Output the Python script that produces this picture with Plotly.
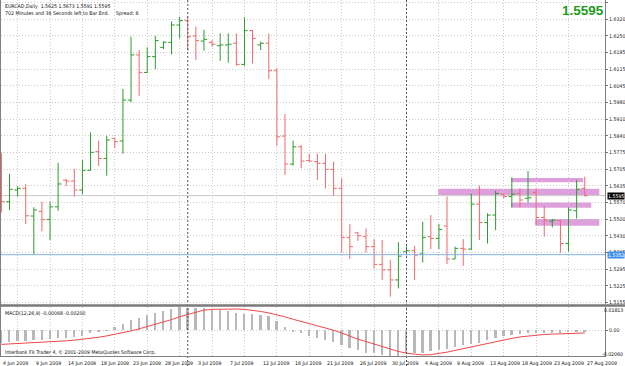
import subprocess
import numpy as np
import plotly.graph_objects as go

# ---------------- data ----------------
symbol_title = "EURCAD,Daily  1.5625 1.5673 1.5591 1.5595"
timer_text = "702 Minutes and 36 Seconds left to Bar End."
spread_text = "Spread: 8"
macd_title = "MACD(12,26,9) -0.00068 -0.00200"
copyright_text = "Interbank FX Trader 4, \u00a9 2001-2009 MetaQuotes Software Corp."
last_price = 1.5595
ref_line_price = 1.5352
macd_top_label = 0.01813
macd_bottom_label = -0.02060

date_labels = ["4 Jun 2009", "9 Jun 2009", "14 Jun 2009", "18 Jun 2009", "23 Jun 2009",
               "28 Jun 2009", "3 Jul 2009", "7 Jul 2009", "12 Jul 2009", "16 Jul 2009",
               "21 Jul 2009", "26 Jul 2009", "30 Jul 2009", "4 Aug 2009", "9 Aug 2009",
               "13 Aug 2009", "18 Aug 2009", "23 Aug 2009", "27 Aug 2009"]

price_labels = ["1.6390", "1.6320", "1.6250", "1.6185", "1.6115", "1.6045", "1.5980",
                "1.5910", "1.5840", "1.5775", "1.5705", "1.5635", "1.5570", "1.5500",
                "1.5430", "1.5365", "1.5295", "1.5225", "1.5155"]

open_ = [1.5741, 1.5570, 1.5618, 1.5625, 1.5511, 1.5530, 1.5497, 1.5549, 1.5659, 1.5655,
         1.5618, 1.5699, 1.5776, 1.5748, 1.5831, 1.5820, 1.5988, 1.6174, 1.6102, 1.6167,
         1.6205, 1.6226, 1.6297, 1.6315, 1.6252, 1.6231, 1.6226, 1.6212, 1.6215, 1.6222,
         1.6135, 1.6274, 1.6215, 1.6222, 1.6109, 1.5840, 1.5725, 1.5796, 1.5739, 1.5735,
         1.5728, 1.5703, 1.5625, 1.5423, 1.5442, 1.5426, 1.5385, 1.5312, 1.5289, 1.5248,
         1.5364, 1.5368, 1.5355, 1.5426, 1.5419, 1.5470, 1.5334, 1.5378, 1.5375, 1.5560,
         1.5484, 1.5515, 1.5601, 1.5591, 1.5604, 1.5584, 1.5608, 1.5505, 1.5490, 1.5492,
         1.5398, 1.5533, 1.5625]
high = [1.5769, 1.5684, 1.5634, 1.5643, 1.5547, 1.5570, 1.5570, 1.5730, 1.5663, 1.5704,
        1.5741, 1.5855, 1.5821, 1.5842, 1.5833, 1.6034, 1.6249, 1.6194, 1.6205, 1.6252,
        1.6231, 1.6312, 1.6331, 1.6331, 1.6290, 1.6277, 1.6235, 1.6263, 1.6263, 1.6263,
        1.6329, 1.6277, 1.6229, 1.6263, 1.6119, 1.5931, 1.5821, 1.5803, 1.5766, 1.5769,
        1.5766, 1.5735, 1.5666, 1.5477, 1.5444, 1.5460, 1.5416, 1.5412, 1.5330, 1.5403,
        1.5385, 1.5389, 1.5488, 1.5515, 1.5478, 1.5591, 1.5385, 1.5416, 1.5604, 1.5636,
        1.5522, 1.5615, 1.5604, 1.5670, 1.5625, 1.5696, 1.5625, 1.5552, 1.5499, 1.5494,
        1.5547, 1.5659, 1.5673]
low = [1.5526, 1.5536, 1.5591, 1.5478, 1.5355, 1.5448, 1.5412, 1.5533, 1.5634, 1.5591,
       1.5600, 1.5698, 1.5717, 1.5677, 1.5792, 1.5767, 1.5979, 1.6006, 1.6101, 1.6116,
       1.6198, 1.6176, 1.6242, 1.6191, 1.6153, 1.6191, 1.6208, 1.6150, 1.6142, 1.6130,
       1.6130, 1.6139, 1.6194, 1.6075, 1.5800, 1.5680, 1.5718, 1.5707, 1.5735, 1.5659,
       1.5625, 1.5595, 1.5361, 1.5334, 1.5409, 1.5361, 1.5296, 1.5248, 1.5179, 1.5213,
       1.5357, 1.5248, 1.5320, 1.5375, 1.5375, 1.5313, 1.5334, 1.5306, 1.5371, 1.5412,
       1.5398, 1.5453, 1.5584, 1.5547, 1.5547, 1.5567, 1.5474, 1.5426, 1.5464, 1.5360,
       1.5364, 1.5501, 1.5591]
close = [1.5570, 1.5621, 1.5625, 1.5512, 1.5536, 1.5496, 1.5549, 1.5643, 1.5655, 1.5618,
         1.5699, 1.5773, 1.5748, 1.5824, 1.5817, 1.5988, 1.6174, 1.6102, 1.6167, 1.6233,
         1.6226, 1.6297, 1.6315, 1.6249, 1.6233, 1.6238, 1.6218, 1.6215, 1.6218, 1.6135,
         1.6274, 1.6242, 1.6222, 1.6109, 1.5837, 1.5725, 1.5796, 1.5737, 1.5737, 1.5728,
         1.5703, 1.5625, 1.5423, 1.5385, 1.5430, 1.5385, 1.5312, 1.5289, 1.5248, 1.5346,
         1.5368, 1.5350, 1.5423, 1.5419, 1.5456, 1.5334, 1.5378, 1.5375, 1.5560, 1.5484,
         1.5515, 1.5604, 1.5591, 1.5601, 1.5577, 1.5586, 1.5505, 1.5494, 1.5494, 1.5398,
         1.5536, 1.5621, 1.5595]

macd_main = [-0.00954, -0.00871, -0.00816, -0.00816, -0.00761, -0.00733, -0.00678, -0.00595, -0.00595, -0.00539,
             -0.00456, -0.00180, -0.00100, -0.00040, 0.00235, 0.00484, 0.00844, 0.00982, 0.01203, 0.01397,
             0.01535, 0.01673, 0.01813, 0.01790, 0.01756, 0.01729, 0.01618, 0.01590, 0.01480, 0.01397,
             0.01314, 0.01300, 0.01203, 0.01120, 0.00705, 0.00290, -0.00124, -0.00180, -0.00401, -0.00595,
             -0.00733, -0.00871, -0.01176, -0.01369, -0.01563, -0.01729, -0.01784, -0.01922, -0.02060, -0.02005,
             -0.01784, -0.01770, -0.01729, -0.01590, -0.01507, -0.01424, -0.01286, -0.01176, -0.01037, -0.00954,
             -0.00733, -0.00622, -0.00456, -0.00346, -0.00318, -0.00235, -0.00180, -0.00235, -0.00180, -0.00180,
             -0.00124, -0.00124, -0.00068]
macd_signal = [-0.01093, -0.01065, -0.01037, -0.01010, -0.00954, -0.00927, -0.00899, -0.00871, -0.00816, -0.00761,
               -0.00705, -0.00650, -0.00539, -0.00429, -0.00318, -0.00180, -0.00041, 0.00124, 0.00290, 0.00456,
               0.00650, 0.00844, 0.01065, 0.01259, 0.01452, 0.01590, 0.01646, 0.01673, 0.01673, 0.01673,
               0.01646, 0.01590, 0.01480, 0.01369, 0.01231, 0.01065, 0.00871, 0.00705, 0.00539, 0.00401,
               0.00235, 0.00014, -0.00207, -0.00456, -0.00678, -0.00871, -0.01065, -0.01259, -0.01480, -0.01646,
               -0.01784, -0.01867, -0.01922, -0.01895, -0.01812, -0.01701, -0.01563, -0.01424, -0.01286, -0.01148,
               -0.01010, -0.00871, -0.00733, -0.00622, -0.00512, -0.00429, -0.00373, -0.00318, -0.00290, -0.00280,
               -0.00240, -0.00220, -0.00200]

month_start_bars = [23, 50]          # period separators (1 Jul, 2 Aug)
# pink zones: (bar from, bar to, price low, price high)
zones = [(53.9, 73.8, 1.5598, 1.5623),
         (62.9, 71.8, 1.5650, 1.5667),
         (62.9, 72.8, 1.5545, 1.5567),
         (65.9, 73.8, 1.5471, 1.5499)]

# ---------------- fonts ----------------
try:
    fc = subprocess.run(["fc-list"], capture_output=True, text=True).stdout
except Exception:
    fc = ""
if "Liberation Sans Narrow" in fc:
    SMALL_FAMILY, SMALL_SIZE = "Liberation Sans Narrow", 6.0
elif "DejaVu Sans Condensed" in fc or "DejaVuSansCondensed" in fc:
    SMALL_FAMILY, SMALL_SIZE = "DejaVu Sans Condensed", 5.2
else:
    SMALL_FAMILY, SMALL_SIZE = "Liberation Sans", 4.9
FONT = "Liberation Sans, Arial, sans-serif"

# ---------------- figure ----------------
W, H = 625, 366
ML, MR, MT, MB = 1, 20, 0, 9
PH = H - MT - MB
PW = W - ML - MR


def py(ypx):
    return 1 - (ypx - MT) / PH


def px(xpx):
    return (xpx - ML) / PW


n = len(open_)
x = list(range(n))
label_bars = list(range(0, n, 4))
grid_bars = [b + 2 for b in label_bars[:-1]]

GRID = "#c9c9c9"
small = dict(family=SMALL_FAMILY, size=SMALL_SIZE, color="#111111")

fig = go.Figure()
fig.add_trace(go.Ohlc(
    x=x, open=open_, high=high, low=low, close=close,
    increasing=dict(line=dict(color="#2e9a2e", width=1)),
    decreasing=dict(line=dict(color="#ee6a6a", width=1)),
    tickwidth=0.4, xaxis="x", yaxis="y", hoverinfo="skip"))
fig.add_trace(go.Bar(
    x=x, y=macd_main, width=0.22,
    marker=dict(color="#b8b8b8", line=dict(width=0)),
    xaxis="x2", yaxis="y2", hoverinfo="skip"))
fig.add_trace(go.Scatter(
    x=x, y=macd_signal, mode="lines",
    line=dict(color="#f04848", width=1),
    xaxis="x2", yaxis="y2", hoverinfo="skip"))

y_top, y_bot = 1.6400, 1.5149
tickvals = list(np.linspace(float(price_labels[0]), float(price_labels[-1]), len(price_labels)))

main_dom = [py(304), 1]
macd_dom = [0, py(307)]

common_x = dict(range=[-0.05, 74.5], tickvals=grid_bars, showticklabels=False,
                showgrid=True, gridcolor=GRID, griddash="1px,2px", gridwidth=1,
                zeroline=False, ticks="", showline=False, automargin=False)

fig.update_layout(
    width=W, height=H, template="none",
    margin=dict(l=ML, r=MR, t=MT, b=MB, pad=0),
    paper_bgcolor="white", plot_bgcolor="white", showlegend=False,
    font=dict(family=FONT, size=6, color="black"),
    bargap=0,
    xaxis=dict(domain=[0, 1], anchor="y", rangeslider=dict(visible=False), **common_x),
    xaxis2=dict(domain=[0, 1], anchor="y2", matches="x", **common_x),
    yaxis=dict(domain=main_dom, range=[y_bot, y_top], side="right",
               tickvals=tickvals, ticktext=price_labels,
               showgrid=True, gridcolor=GRID, griddash="1px,2px", gridwidth=1,
               ticks="outside", ticklen=2, tickcolor="#777777",
               tickfont=dict(size=SMALL_SIZE, family=SMALL_FAMILY, color="#222222"),
               showline=True, linecolor="#808080", linewidth=1,
               zeroline=False, automargin=False),
    yaxis2=dict(domain=macd_dom, range=[-0.0208, 0.0183], side="right",
                tickvals=[0], ticktext=["0.00"],
                showgrid=True, gridcolor=GRID, griddash="1px,2px", gridwidth=1,
                ticks="outside", ticklen=2, tickcolor="#777777",
                tickfont=dict(size=SMALL_SIZE, family=SMALL_FAMILY, color="#222222"),
                showline=True, linecolor="#808080", linewidth=1,
                zeroline=False, automargin=False),
)

shapes = []
for b0, b1, p0, p1 in zones:
    shapes.append(dict(type="rect", xref="x", yref="y", x0=b0, x1=b1, y0=p0, y1=p1,
                       fillcolor="#dda0dd", line=dict(width=0), layer="below"))
shapes.append(dict(type="line", xref="paper", yref="y", x0=0, x1=1, y0=last_price, y1=last_price,
                   line=dict(color="#c8c8c8", width=1), layer="below"))
shapes.append(dict(type="line", xref="paper", yref="y", x0=0, x1=1, y0=ref_line_price, y1=ref_line_price,
                   line=dict(color="#7fb2e5", width=1), layer="above"))
for b in month_start_bars:
    shapes.append(dict(type="line", xref="x", yref="paper", x0=b, x1=b, y0=py(366), y1=1,
                       line=dict(color="#555555", width=1, dash="2px,2px"), layer="above"))
shapes.append(dict(type="line", xref="paper", yref="paper", x0=px(0.5), x1=px(0.5), y0=0, y1=1,
                   line=dict(color="#808080", width=1)))
shapes.append(dict(type="line", xref="paper", yref="paper", x0=px(0), x1=px(625), y0=py(305.5), y1=py(305.5),
                   line=dict(color="#7a7a7a", width=2.5)))
shapes.append(dict(type="line", xref="paper", yref="paper", x0=px(0), x1=px(606), y0=py(356.5), y1=py(356.5),
                   line=dict(color="#808080", width=1)))
fig.update_layout(shapes=shapes)

ann = []
ann.append(dict(text=symbol_title, xref="paper", yref="paper", x=px(3), y=py(0.5),
                xanchor="left", yanchor="top", showarrow=False, font=small))
ann.append(dict(text=timer_text, xref="paper", yref="paper", x=px(3), y=py(7.5),
                xanchor="left", yanchor="top", showarrow=False, font=small))
ann.append(dict(text=spread_text, xref="paper", yref="paper", x=px(114), y=py(7.5),
                xanchor="left", yanchor="top", showarrow=False, font=small))
ann.append(dict(text="%.4f" % last_price, xref="paper", yref="paper", x=px(606), y=py(10.5),
                xanchor="right", yanchor="middle", showarrow=False,
                font=dict(family=FONT, size=13.5, color="#1e9b1e", weight="bold")))
ann.append(dict(text=macd_title, xref="paper", yref="paper", x=px(3), y=py(307.5),
                xanchor="left", yanchor="top", showarrow=False, font=small))
ann.append(dict(text=copyright_text, xref="paper", yref="paper", x=px(3), y=py(352),
                xanchor="left", yanchor="middle", showarrow=False, font=small))
for b, lab in zip(label_bars, date_labels):
    ann.append(dict(text=lab, xref="x2", yref="paper", x=b, y=py(357.5),
                    xanchor="left", yanchor="top", showarrow=False, font=small))
ann.append(dict(text="%.4f" % last_price, xref="paper", yref="y", x=px(607), y=last_price,
                xanchor="left", yanchor="middle", showarrow=False, bgcolor="#000000",
                borderpad=0, font=dict(family=SMALL_FAMILY, size=SMALL_SIZE, color="white")))
ann.append(dict(text="%.4f" % ref_line_price, xref="paper", yref="y", x=px(607), y=ref_line_price,
                xanchor="left", yanchor="middle", showarrow=False, bgcolor="#3c8ee6",
                borderpad=0, font=dict(family=SMALL_FAMILY, size=SMALL_SIZE, color="white")))
ann.append(dict(text="%.5f" % macd_top_label, xref="paper", yref="paper", x=px(624.5), y=py(309.5),
                xanchor="right", yanchor="middle", showarrow=False, font=small))
ann.append(dict(text="%.5f" % macd_bottom_label, xref="paper", yref="paper", x=px(624.5), y=py(353.5),
                xanchor="right", yanchor="middle", showarrow=False, font=small))
fig.update_layout(annotations=ann)

fig.write_html("out.html")
